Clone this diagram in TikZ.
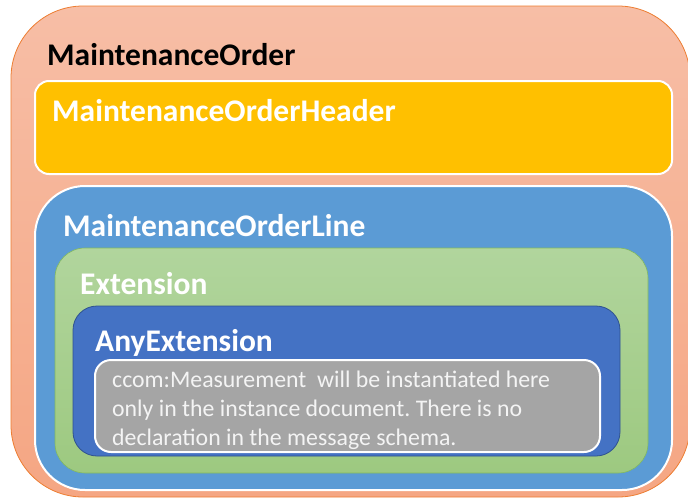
\documentclass[tikz,border=0pt]{standalone}
\usepackage{fontspec}
\setmainfont{Carlito}
\usetikzlibrary{positioning,calc}
\frenchspacing
\definecolor{OrderTop}{RGB}{247,190,166}
\definecolor{OrderBottom}{RGB}{245,166,131}
\definecolor{OrderEdge}{RGB}{237,125,49}
\definecolor{HeaderFill}{RGB}{255,192,0}
\definecolor{LineFill}{RGB}{91,155,213}
\definecolor{ExtTop}{RGB}{177,213,157}
\definecolor{ExtBottom}{RGB}{157,201,128}
\definecolor{ExtEdge}{RGB}{130,185,95}
\definecolor{AnyFill}{RGB}{68,114,196}
\definecolor{AnyEdge}{RGB}{47,82,143}
\definecolor{NoteFill}{RGB}{165,165,165}
\definecolor{NoteText}{RGB}{244,244,244}
\tikzset{
  layer/.style={anchor=north west, inner sep=0pt, outer sep=0pt},
  layertitle/.style={anchor=base west, inner sep=0pt,
                     font=\fontsize{31.5}{34}\selectfont\bfseries, text=white},
  notetext/.style={font=\fontsize{23.8}{29}\selectfont, text=NoteText, align=left},
}

\begin{document}
\begin{tikzpicture}[x=1pt, y=-1pt]
  \useasboundingbox (0,0) rectangle (688,498);

  % nested layers, outside in
  \node[layer, draw=OrderEdge, line width=0.8pt, top color=OrderTop, bottom color=OrderBottom,
        rounded corners=72pt, minimum width=679pt, minimum height=491pt] (order) at (11,6) {};
  \node[layer, draw=white, line width=2pt, fill=HeaderFill, rounded corners=14pt,
        minimum width=637pt, minimum height=93pt] (header) at (35,81) {};
  \node[layer, draw=white, line width=2pt, fill=LineFill, rounded corners=50pt,
        minimum width=637pt, minimum height=304pt] (line) at (35,186) {};
  \node[layer, draw=ExtEdge, line width=0.6pt, top color=ExtTop, bottom color=ExtBottom,
        rounded corners=30pt, minimum width=593pt, minimum height=225pt] (ext) at (55,248) {};
  \node[layer, draw=AnyEdge, line width=0.8pt, fill=AnyFill, rounded corners=24pt,
        minimum width=547pt, minimum height=150pt] (any) at (73,306) {};
  \node[layer, draw=white, line width=2pt, fill=NoteFill, rounded corners=16pt,
        minimum width=505pt, minimum height=92pt] (note) at (95,360) {};

  % titles
  \node[layertitle, text=black] (orderlbl) at (47,65) {MaintenanceOrder};
  \node[layertitle] (headerlbl) at (52,121) {MaintenanceOrderHeader};
  \node[layertitle] (linelbl) at (63,236) {MaintenanceOrderLine};
  \node[layertitle] (extlbl) at (80,294) {Extension};
  \node[layertitle] (anylbl) at (95,351) {AnyExtension};

  \node[notetext, anchor=west, inner sep=0pt] (notelbl) at (112,410)
    {ccom:Measurement\ \ will be instantiated here\\
     only in the instance document. There is no\\
     declaration in the message schema.};
\end{tikzpicture}
\end{document}
